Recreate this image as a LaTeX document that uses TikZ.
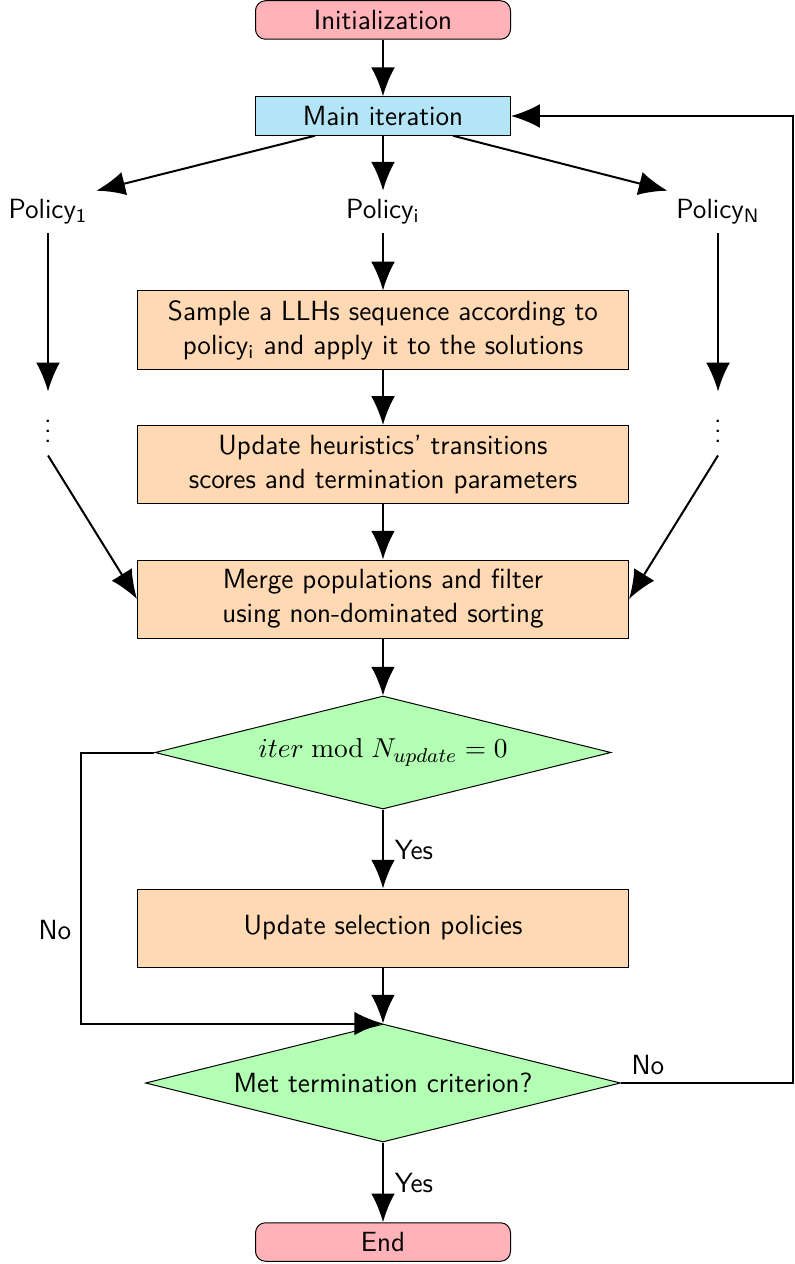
\documentclass[tikz,border=0pt]{standalone}
\usetikzlibrary{shapes.geometric,arrows.meta}
\definecolor{startred}{HTML}{FFB3B8}
\definecolor{mainblue}{HTML}{B3E5F7}
\definecolor{procorange}{HTML}{FFD9B3}
\definecolor{decgreen}{HTML}{B3FFB3}
\begin{document}
\begin{tikzpicture}[x=0.4pt,y=-0.4pt,
  font=\sffamily\fontsize{11.1}{13.6}\selectfont,
  arr/.style={line width=0.8pt,-{Latex[length=11.5pt,width=9.5pt]}},
  termbox/.style={draw,line width=0.4pt,rounded corners=4pt,fill=startred,minimum width=102pt,minimum height=15.4pt,inner sep=0pt},
  mainbox/.style={draw,line width=0.4pt,fill=mainblue,minimum width=102pt,minimum height=15.4pt,inner sep=0pt},
  procbox/.style={draw,line width=0.4pt,fill=procorange,minimum width=196.4pt,minimum height=31.2pt,inner sep=0pt,align=center},
  decbox/.style={draw,line width=0.4pt,fill=decgreen,shape=diamond,aspect=4,inner sep=0pt},
  lbl/.style={inner sep=3.33pt},
  dotsnode/.style={minimum height=25.2pt,minimum width=6pt,inner sep=0pt}
]
\useasboundingbox (0,0) rectangle (794,1264);

\node[termbox] (init) at (383,20) {Initialization};
\node[mainbox] (main) at (383,116) {Main iteration};

\node[lbl] (p1) at (48,212) {Policy\textsubscript{1}};
\node[lbl] (pi) at (383,212) {Policy\textsubscript{i}};
\node[lbl] (pN) at (718,212) {Policy\textsubscript{N}};

\node[dotsnode] (d1) at (48,423.5) {$\vdots$};
\node[dotsnode] (dN) at (718,423.5) {$\vdots$};

\node[procbox] (sample) at (383,330) {Sample a LLHs sequence according to\\policy\textsubscript{i} and apply it to the solutions};
\node[procbox] (update) at (383,464.5) {Update heuristics' transitions\\scores and termination parameters};
\node[procbox] (merge) at (383,599) {Merge populations and filter\\using non-dominated sorting};

\node[decbox,minimum width=182.4pt,minimum height=45.2pt] (dec1) at (383,752.5) {$iter \bmod N_{update} = 0$};
\node[procbox] (upd) at (383,928) {Update selection policies};
\node[decbox,minimum width=190pt,minimum height=47.2pt] (dec2) at (383,1083) {Met termination criterion?};
\node[termbox] (end) at (383,1242) {End};

\node (yes1) at (414,850) {Yes};
\node (yes2) at (414,1183) {Yes};
\node (no1) at (55,930) {No};
\node (no2) at (648,1065) {No};

\draw[arr] (init.south) -- (main.north);
\draw[arr] ([xshift=-27.2pt]main.south) -- (p1.north east);
\draw[arr] (main.south) -- (pi.north);
\draw[arr] ([xshift=28pt]main.south) -- (pN.north west);

\draw[arr] (p1.south) -- (d1.north);
\draw[arr] (pN.south) -- (dN.north);
\draw[arr] (d1.south) -- (merge.west);
\draw[arr] (dN.south) -- (merge.east);

\draw[arr] (pi.south) -- (sample.north);
\draw[arr] (sample.south) -- (update.north);
\draw[arr] (update.south) -- (merge.north);
\draw[arr] (merge.south) -- (dec1.north);
\draw[arr] (dec1.south) -- (upd.north);
\draw[arr] (upd.south) -- (dec2.north);
\draw[arr] (dec1.west) -- (81,752.5) |- (dec2.north);
\draw[arr] (dec2.south) -- (end.north);
\draw[arr] (dec2.east) -- (793,1083) |- (main.east);
\end{tikzpicture}
\end{document}
